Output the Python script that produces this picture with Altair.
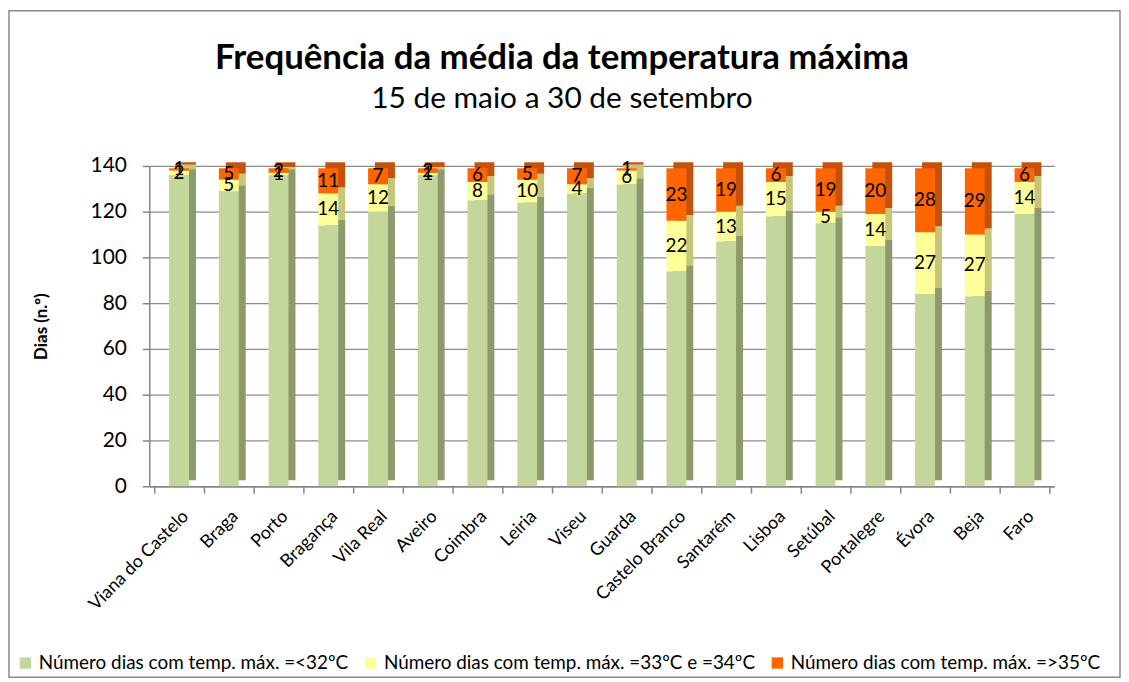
import altair as alt
import pandas as pd

stations = ["Viana do Castelo", "Braga", "Porto", "Bragança", "Vila Real", "Aveiro",
            "Coimbra", "Leiria", "Viseu", "Guarda", "Castelo Branco", "Santarém",
            "Lisboa", "Setúbal", "Portalegre", "Évora", "Beja", "Faro"]
le32 = [136, 129, 136, 114, 120, 136, 125, 124, 128, 132, 94, 107, 118, 115, 105, 84, 83, 119]
d33_34 = [2, 5, 1, 14, 12, 1, 8, 10, 4, 6, 22, 13, 15, 5, 14, 27, 27, 14]
ge35 = [1, 5, 2, 11, 7, 2, 6, 5, 7, 1, 23, 19, 6, 19, 20, 28, 29, 6]

series = ["Número dias com temp. máx. =<32ºC",
          "Número dias com temp. máx. =33ºC e =34ºC",
          "Número dias com temp. máx. =>35ºC"]
front_colors = ["#c3d69b", "#ffff99", "#ff6600"]
side_colors = ["#8d9b6c", "#c6c67a", "#c4520c"]

rows = []
for i, st in enumerate(stations):
    base = 0
    for k, vals in enumerate([le32, d33_34, ge35]):
        v = vals[i]
        rows.append({"station": st, "series": series[k], "order": k,
                     "y0": base, "y1": base + v, "mid": base + v / 2,
                     "value": v, "label": "" if k == 0 else str(v)})
        base += v
df = pd.DataFrame(rows)

xscale = alt.Scale(domain=stations, paddingInner=0, paddingOuter=0.1)
yscale = alt.Scale(domain=[0, 140])

xenc = alt.X("station:N", sort=stations, title=None, scale=xscale,
             axis=alt.Axis(labelAngle=-45, labelFontSize=18, labelColor="#000",
                           domainColor="#868686", tickColor="#868686", tickSize=7,
                           domainWidth=1.5, tickWidth=1.5, labelPadding=14,
                           tickBand="extent"))

side = alt.Chart(df).mark_bar(size=20, xOffset=7, yOffset=-6, y2Offset=-6).encode(
    x=xenc,
    y=alt.Y("y0:Q", scale=yscale),
    y2="y1:Q",
    color=alt.Color("series:N", scale=alt.Scale(domain=series, range=side_colors), legend=None),
)

front = alt.Chart(df).mark_bar(size=20).encode(
    x=xenc,
    y=alt.Y("y0:Q", scale=yscale, title="Dias (n.º)",
            axis=alt.Axis(values=list(range(0, 141, 20)), labelFontSize=21, titleFontSize=17,
                          titleFontWeight="bold", gridColor="#8c8c8c", gridWidth=1.3,
                          domainColor="#868686", domainWidth=1.5, tickWidth=1.5,
                          tickColor="#868686", tickSize=7, labelColor="#000",
                          titleColor="#000", labelPadding=16, titlePadding=40)),
    y2="y1:Q",
    color=alt.Color("series:N", scale=alt.Scale(domain=series, range=front_colors),
                    sort=series,
                    legend=alt.Legend(orient="none", legendX=-134, legendY=490,
                                      direction="horizontal", title=None,
                                      symbolType="square", symbolSize=130, labelFontSize=19,
                                      labelColor="#000", symbolStrokeWidth=0, labelLimit=0,
                                      columnPadding=12, labelOffset=4)),
)

labels = alt.Chart(df).transform_filter("datum.order > 0").mark_text(
    fontSize=19, color="#000", baseline="middle").encode(
    x=alt.X("station:N", sort=stations, scale=xscale),
    y=alt.Y("mid:Q", scale=yscale),
    text="label:N",
)

frame_df = pd.DataFrame({"a": [0]})
frame = alt.Chart(frame_df).mark_rect(fill=None, stroke="#8a8a8a", strokeWidth=1.5).encode(
    x=alt.value(-141), x2=alt.value(976), y=alt.value(-156), y2=alt.value(514))

chart = alt.layer(frame, side, front, labels).resolve_scale(color="independent").properties(
    width=910, height=322,
    title=alt.TitleParams("Frequência da média da temperatura máxima",
                          subtitle="15 de maio a 30 de setembro",
                          fontSize=35, fontWeight="bold", subtitleFontSize=30,
                          color="#000", subtitleColor="#000", offset=-104,
                          subtitlePadding=8, anchor="middle", frame="group", dx=-40),
    padding=0,
).configure(font="Lato", background="white").configure_view(stroke=None)

chart.save("out.html", embed_options={"renderer": "svg", "actions": False})
